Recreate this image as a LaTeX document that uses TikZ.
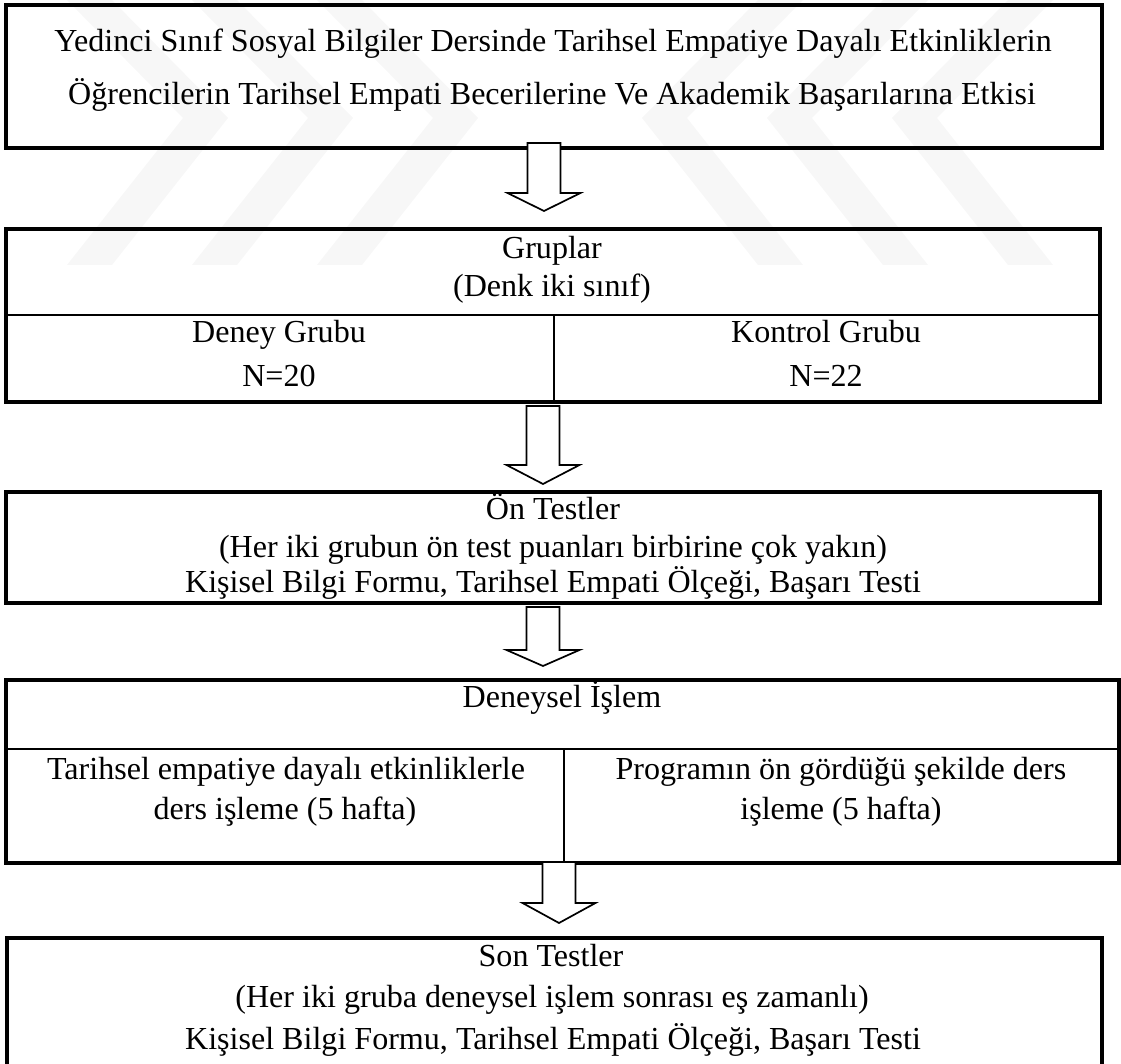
\documentclass[tikz,border=0pt]{standalone}
\usepackage{fontspec}
\setmainfont{Liberation Serif}
\usetikzlibrary{fit}

\tikzset{
  frame/.style={draw, line width=1.3pt, inner sep=0pt},
  txt/.style={anchor=base, inner sep=0pt, font=\fontsize{13.15}{15}\selectfont},
  div/.style={line width=0.7pt},
  hollow/.style={draw, fill=white, line width=0.7pt, line join=miter},
  wmark/.style={fill=gray!6}
}

\begin{document}
\begin{tikzpicture}[x=0.41pt, y=-0.41pt]
  \useasboundingbox (0,0) rectangle (1121,1064);
  % watermark
  \foreach \a in {67,192,317}
    \fill[wmark] (\a,0) -- (\a+45,0) -- (\a+161,118) -- (\a+45,265) -- (\a,265) -- (\a+116,118) -- cycle;
  \foreach \b in {1053,928,803}
    \fill[wmark] (\b,0) -- (\b-45,0) -- (\b-161,118) -- (\b-45,265) -- (\b,265) -- (\b-116,118) -- cycle;

  % boxes
  \node[frame, fit={(6,5) (1102,148)}] (title) {};
  \node[frame, fit={(6,229) (1100,402)}] (groups) {};
  \node[frame, fit={(6,492) (1100,603)}] (pretest) {};
  \node[frame, fit={(6,680) (1119,863)}] (process) {};
  \node[frame, fit={(7,938) (1102,1080)}] (posttest) {};

  \draw[div] (6,315) -- (1100,315);
  \draw[div] (554,315) -- (554,402);
  \draw[div] (6,749) -- (1119,749);
  \draw[div] (564,749) -- (564,863);

  % texts
  \node[txt] (t1) at (553,52) {Yedinci Sınıf Sosyal Bilgiler Dersinde Tarihsel Empatiye Dayalı Etkinliklerin};
  \node[txt] (t2) at (552,105) {Öğrencilerin Tarihsel Empati Becerilerine Ve Akademik Başarılarına Etkisi};

  \node[txt] (g1) at (552,259) {Gruplar};
  \node[txt] (g2) at (552,297) {(Denk iki sınıf)};
  \node[txt] (d1) at (279,343) {Deney Grubu};
  \node[txt] (d2) at (279,387) {N=20};
  \node[txt] (k1) at (826,343) {Kontrol Grubu};
  \node[txt] (k2) at (826,387) {N=22};

  \node[txt] (p1) at (553,520) {Ön Testler};
  \node[txt] (p2) at (553,558) {(Her iki grubun ön test puanları birbirine çok yakın)};
  \node[txt] (p3) at (553,593) {Kişisel Bilgi Formu, Tarihsel Empati Ölçeği, Başarı Testi};

  \node[txt] (e1) at (562,708) {Deneysel İşlem};
  \node[txt] (l1) at (286,780) {Tarihsel empatiye dayalı etkinliklerle};
  \node[txt] (l2) at (285,820) {ders işleme (5 hafta)};
  \node[txt] (r1) at (841,780) {Programın ön gördüğü şekilde ders};
  \node[txt] (r2) at (841,820) {işleme (5 hafta)};

  \node[txt] (s1) at (551,967) {Son Testler};
  \node[txt] (s2) at (552,1008) {(Her iki gruba deneysel işlem sonrası eş zamanlı)};
  \node[txt] (s3) at (553,1050) {Kişisel Bilgi Formu, Tarihsel Empati Ölçeği, Başarı Testi};

  % arrows
  \foreach \x/\y/\s/\h [count=\i] in {544/143/50/18, 543/406/59/19, 543/607/43/16, 559/862/41/20} {
    \coordinate (arr\i) at (\x,\y);
    \draw[hollow] (arr\i) ++(-16.5,0) -- ++(0,\s) -- ++(-20,0) -- ++(36.5,\h)
      -- ++(36.5,-\h) -- ++(-20,0) -- ++(0,-\s) -- cycle;
  }
\end{tikzpicture}
\end{document}
